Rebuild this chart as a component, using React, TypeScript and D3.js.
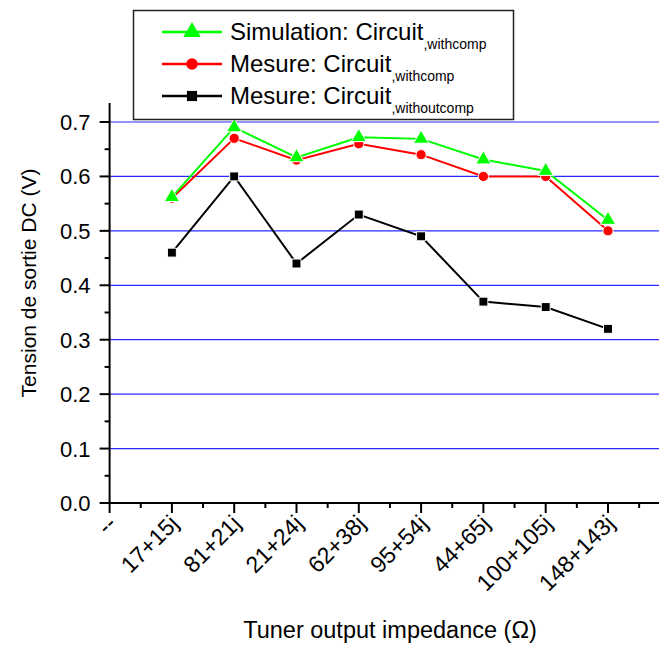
import { useEffect, useRef } from 'react'
import * as d3 from 'd3'

const categories = ['--', '17+15j', '81+21j', '21+24j', '62+38j', '95+54j', '44+65j', '100+105j', '148+143j']
const simWithComp = [0.562, 0.69, 0.635, 0.672, 0.669, 0.631, 0.61, 0.52]
const mesWithComp = [0.56, 0.67, 0.63, 0.66, 0.64, 0.6, 0.6, 0.5]
const mesWithoutComp = [0.46, 0.6, 0.44, 0.53, 0.49, 0.37, 0.36, 0.32]
const yTicks = [0, 0.1, 0.2, 0.3, 0.4, 0.5, 0.6, 0.7]
const gridValues = [0.1, 0.2, 0.3, 0.4, 0.5, 0.6, 0.7]

const FONT = '"Liberation Sans", Arial, sans-serif'

type Series = { name: string; sub: string; values: number[]; color: string; marker: 'triangle' | 'circle' | 'square' }

const series: Series[] = [
  { name: 'Mesure: Circuit', sub: ',withoutcomp', values: mesWithoutComp, color: '#000000', marker: 'square' },
  { name: 'Mesure: Circuit', sub: ',withcomp', values: mesWithComp, color: '#ff0000', marker: 'circle' },
  { name: 'Simulation: Circuit', sub: ',withcomp', values: simWithComp, color: '#00ff00', marker: 'triangle' },
]
const legendOrder = [2, 1, 0]

const width = 659
const height = 652

const App = () => {
  const ref = useRef<SVGSVGElement | null>(null)

  useEffect(() => {
    if (!ref.current) return
    const svg = d3.select(ref.current)
    svg.selectAll('*').remove()

    const x = d3.scaleLinear().domain([0, 8]).range([109.6, 608])
    const y = d3.scaleLinear().domain([0, 0.7]).range([503, 122])
    const xEnd = x(9)

    const markerPath = (m: Series['marker'], k = 1) => {
      if (m === 'triangle') return d3.symbol(d3.symbolTriangle, 100 * k)()
      if (m === 'circle') return d3.symbol(d3.symbolCircle, 82 * k)()
      return d3.symbol(d3.symbolSquare, 80 * k)()
    }

    // grid
    svg
      .append('g')
      .selectAll('line')
      .data(gridValues)
      .join('line')
      .attr('x1', x(0))
      .attr('x2', xEnd)
      .attr('y1', (d) => y(d))
      .attr('y2', (d) => y(d))
      .attr('stroke', '#2a2aff')
      .attr('stroke-width', 1.2)

    // y axis
    const yAxis = svg.append('g').attr('transform', `translate(${x(0)},0)`)
    yAxis
      .append('line')
      .attr('x1', 0)
      .attr('x2', 0)
      .attr('y1', y(0.735))
      .attr('y2', y(0))
      .attr('stroke', '#000')
      .attr('stroke-width', 2)
    yAxis
      .selectAll('.minor')
      .data(d3.range(0.05, 0.75, 0.1))
      .join('line')
      .attr('x1', -5)
      .attr('x2', 0)
      .attr('y1', (d) => y(d))
      .attr('y2', (d) => y(d))
      .attr('stroke', '#000')
      .attr('stroke-width', 2)
    yAxis
      .selectAll('.major')
      .data(yTicks)
      .join('line')
      .attr('x1', -10)
      .attr('x2', 0)
      .attr('y1', (d) => y(d))
      .attr('y2', (d) => y(d))
      .attr('stroke', '#000')
      .attr('stroke-width', 2)
    yAxis
      .selectAll('text')
      .data(yTicks)
      .join('text')
      .attr('x', -19)
      .attr('y', (d) => y(d) + 8)
      .attr('text-anchor', 'end')
      .attr('font-family', FONT)
      .attr('font-size', 22)
      .text((d) => d.toFixed(1))

    // x axis
    const xAxis = svg.append('g').attr('transform', `translate(0,${y(0)})`)
    xAxis
      .append('line')
      .attr('x1', x(0) - 1)
      .attr('x2', xEnd)
      .attr('stroke', '#000')
      .attr('stroke-width', 2)
    xAxis
      .selectAll('.minor')
      .data(d3.range(0.5, 9, 1))
      .join('line')
      .attr('x1', (d) => x(d))
      .attr('x2', (d) => x(d))
      .attr('y1', 0)
      .attr('y2', 5)
      .attr('stroke', '#000')
      .attr('stroke-width', 2)
    xAxis
      .selectAll('.major')
      .data(d3.range(0, 10))
      .join('line')
      .attr('x1', (d) => x(d))
      .attr('x2', (d) => x(d))
      .attr('y1', 0)
      .attr('y2', 10)
      .attr('stroke', '#000')
      .attr('stroke-width', 2)
    xAxis
      .selectAll('text')
      .data(categories)
      .join('text')
      .attr('transform', (_d, i) => `translate(${x(i) + 8},${22}) rotate(-45)`)
      .attr('text-anchor', 'end')
      .attr('font-family', FONT)
      .attr('font-size', 23)
      .text((d) => d)

    // series
    const line = d3
      .line<number>()
      .x((_d, i) => x(i + 1))
      .y((d) => y(d))
    series.forEach((s) => {
      const g = svg.append('g')
      g.append('path')
        .datum(s.values)
        .attr('fill', 'none')
        .attr('stroke', s.color)
        .attr('stroke-width', 2)
        .attr('d', line)
      g.selectAll('path.m')
        .data(s.values)
        .join('path')
        .attr('class', 'm')
        .attr('transform', (d, i) => `translate(${x(i + 1)},${y(d)})`)
        .attr('d', markerPath(s.marker))
        .attr('fill', s.color)
        .attr('stroke', '#fff')
        .attr('stroke-width', 1)
    })

    // legend
    const lg = svg.append('g')
    lg.append('rect')
      .attr('x', 133.5)
      .attr('y', 10.5)
      .attr('width', 380)
      .attr('height', 109)
      .attr('fill', '#fff')
      .attr('stroke', '#222')
      .attr('stroke-width', 1.5)
    legendOrder.forEach((si, row) => {
      const s = series[si]
      const cy = 32 + row * 32
      lg.append('line')
        .attr('x1', 162)
        .attr('x2', 222)
        .attr('y1', cy)
        .attr('y2', cy)
        .attr('stroke', s.color)
        .attr('stroke-width', 2.5)
      lg.append('path')
        .attr('transform', `translate(192,${cy})`)
        .attr('d', markerPath(s.marker, 1.3))
        .attr('fill', s.color)
      const t = lg
        .append('text')
        .attr('x', 230)
        .attr('y', cy + 8)
        .attr('font-family', FONT)
        .attr('font-size', 24)
      t.append('tspan').text(s.name)
      t.append('tspan').attr('font-size', 14).attr('dy', 9).text(s.sub)
    })

    // titles
    svg
      .append('text')
      .attr('transform', `translate(36,283) rotate(-90)`)
      .attr('text-anchor', 'middle')
      .attr('font-family', FONT)
      .attr('font-size', 21)
      .text('Tension de sortie DC (V)')
    svg
      .append('text')
      .attr('x', 390)
      .attr('y', 638)
      .attr('text-anchor', 'middle')
      .attr('font-family', FONT)
      .attr('font-size', 23.5)
      .text('Tuner output impedance (\u03A9)')
  }, [])

  return (
    <svg
      ref={ref}
      width={width}
      height={height}
      style={{ position: 'absolute', left: 0, top: 0, background: '#fff' }}
    />
  )
}

export default App
